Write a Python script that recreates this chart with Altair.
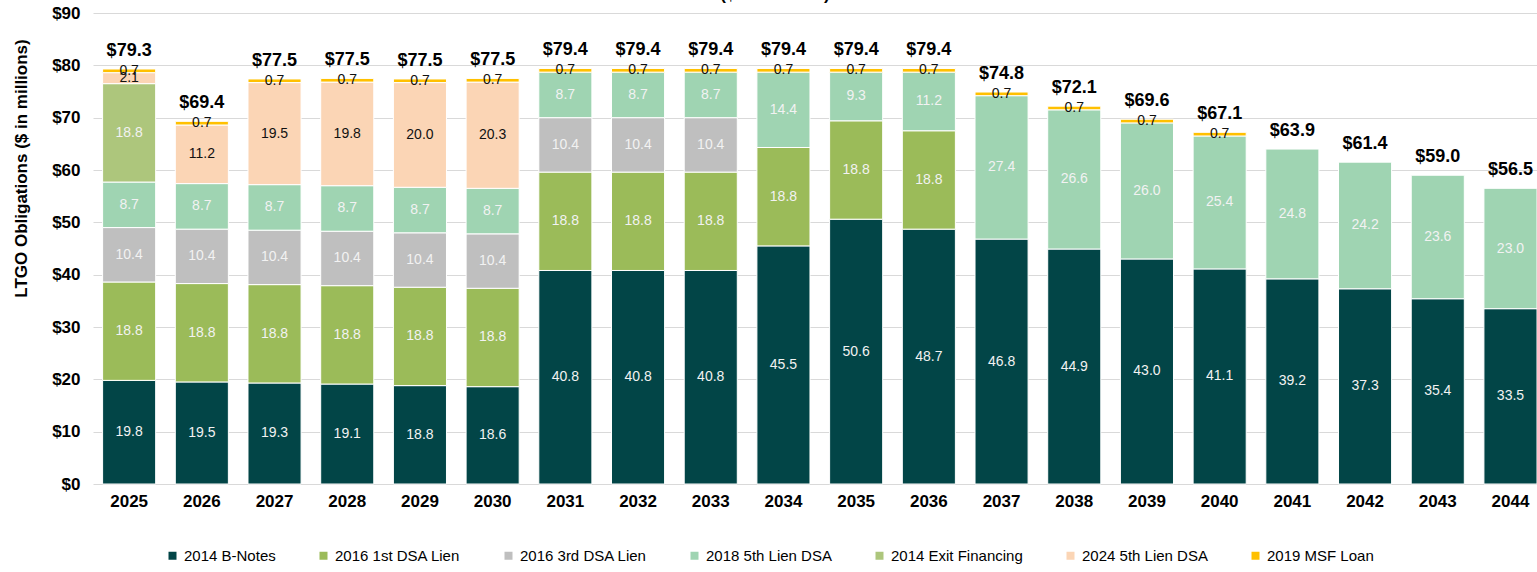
import altair as alt
import pandas as pd

years = ["2025", "2026", "2027", "2028", "2029", "2030", "2031", "2032", "2033", "2034",
         "2035", "2036", "2037", "2038", "2039", "2040", "2041", "2042", "2043", "2044"]

series_names = ["2014 B-Notes", "2016 1st DSA Lien", "2016 3rd DSA Lien", "2018 5th Lien DSA",
                "2014 Exit Financing", "2024 5th Lien DSA", "2019 MSF Loan"]

b_notes_2014 = [19.8, 19.5, 19.3, 19.1, 18.8, 18.6, 40.8, 40.8, 40.8, 45.5,
                50.6, 48.7, 46.8, 44.9, 43.0, 41.1, 39.2, 37.3, 35.4, 33.5]
dsa1_2016 = [18.8, 18.8, 18.8, 18.8, 18.8, 18.8, 18.8, 18.8, 18.8, 18.8,
             18.8, 18.8, 0, 0, 0, 0, 0, 0, 0, 0]
dsa3_2016 = [10.4, 10.4, 10.4, 10.4, 10.4, 10.4, 10.4, 10.4, 10.4, 0,
             0, 0, 0, 0, 0, 0, 0, 0, 0, 0]
lien5_2018 = [8.7, 8.7, 8.7, 8.7, 8.7, 8.7, 8.7, 8.7, 8.7, 14.4,
              9.3, 11.2, 27.4, 26.6, 26.0, 25.4, 24.8, 24.2, 23.6, 23.0]
exit_2014 = [18.8, 0, 0, 0, 0, 0, 0, 0, 0, 0,
             0, 0, 0, 0, 0, 0, 0, 0, 0, 0]
lien5_2024 = [2.1, 11.2, 19.5, 19.8, 20.0, 20.3, 0, 0, 0, 0,
              0, 0, 0, 0, 0, 0, 0, 0, 0, 0]
msf_2019 = [0.7, 0.7, 0.7, 0.7, 0.7, 0.7, 0.7, 0.7, 0.7, 0.7,
            0.7, 0.7, 0.7, 0.7, 0.7, 0.7, 0, 0, 0, 0]

total_labels = ["$79.3", "$69.4", "$77.5", "$77.5", "$77.5", "$77.5", "$79.4", "$79.4", "$79.4", "$79.4",
                "$79.4", "$79.4", "$74.8", "$72.1", "$69.6", "$67.1", "$63.9", "$61.4", "$59.0", "$56.5"]

colors = ["#024547", "#9bbb59", "#bfbfbf", "#9fd4b2", "#adc67c", "#fbd5b5", "#ffc000"]

all_series = [b_notes_2014, dsa1_2016, dsa3_2016, lien5_2018, exit_2014, lien5_2024, msf_2019]

rows = []
for si, (name, vals) in enumerate(zip(series_names, all_series)):
    for yi, (yr, v) in enumerate(zip(years, vals)):
        if v > 0:
            rows.append({"year": yr, "series": name, "value": v, "order": si,
                         "total_label": total_labels[yi]})
df = pd.DataFrame(rows)

FONT = "Liberation Sans"

x_enc = alt.X("year:N", sort=years,
              scale=alt.Scale(paddingInner=0.27, paddingOuter=0.066, align=1),
              axis=alt.Axis(title=None, labelAngle=0, labelFont=FONT, labelFontSize=17,
                            labelFontWeight="bold", labelColor="#000000", labelPadding=9,
                            ticks=False, domain=False, grid=False))

y_scale = alt.Scale(domain=[0, 90], nice=False)

bars = alt.Chart(df).mark_bar(stroke="white", strokeWidth=1).encode(
    x=x_enc,
    y=alt.Y("value:Q", stack="zero", scale=y_scale,
            axis=alt.Axis(title="LTGO Obligations ($ in millions)",
                          values=list(range(0, 91, 10)),
                          labelExpr="'$' + datum.value",
                          labelFont=FONT, labelFontSize=17, labelFontWeight="bold",
                          labelColor="#000000", labelPadding=13,
                          ticks=False, domain=False,
                          grid=True, gridColor="#d9d9d9", gridWidth=1,
                          titleFont=FONT, titleFontSize=17, titleFontWeight="bold",
                          titleColor="#000000", titleAngle=270, titleAlign="center",
                          titleBaseline="middle", titleX=-72, titleY=155)),
    color=alt.Color("series:N", sort=series_names,
                    scale=alt.Scale(domain=series_names, range=colors),
                    legend=alt.Legend(title=None, orient="none", direction="horizontal",
                                      legendX=72, legendY=535, columns=7,
                                      symbolType="square", symbolSize=64,
                                      symbolStrokeWidth=0, labelFont=FONT,
                                      labelFontSize=15, labelColor="#000000",
                                      labelOffset=4, columnPadding=40)),
    order=alt.Order("order:Q", sort="ascending"),
)

seg_labels = alt.Chart(df).transform_stack(
    stack="value", groupby=["year"], as_=["y0", "y1"],
    sort=[alt.SortField("order", order="ascending")]
).transform_calculate(
    mid="(datum.y0 + datum.y1) / 2"
).mark_text(font=FONT, fontSize=14, baseline="middle", align="center").encode(
    x=alt.X("year:N", sort=years),
    y=alt.Y("mid:Q", scale=y_scale),
    text=alt.Text("value:Q", format=".1f"),
    color=alt.condition(
        "datum.series == '2024 5th Lien DSA' || datum.series == '2019 MSF Loan'",
        alt.value("#111111"), alt.value("#f2f2f2")),
)

totals = alt.Chart(df).transform_joinaggregate(
    top="sum(value)", groupby=["year"]
).transform_filter("datum.order == 0").mark_text(
    font=FONT, fontSize=18, fontWeight="bold", baseline="alphabetic", align="center",
    dy=-13, color="#000000"
).encode(
    x=alt.X("year:N", sort=years),
    y=alt.Y("top:Q", scale=y_scale),
    text="total_label:N",
)

title_df = pd.DataFrame({"t": ["($ in millions)"]})
title_txt = alt.Chart(title_df).mark_text(
    font=FONT, fontSize=17, fontWeight="bold", baseline="bottom", align="center",
    color="#000000"
).encode(x=alt.value(682), y=alt.value(-9), text="t:N")

chart = alt.layer(bars, seg_labels, totals, title_txt).properties(
    width=1444, height=471,
    autosize=alt.AutoSizeParams(type="none"),
    padding={"left": 93, "top": 13, "right": 0, "bottom": 88},
    background="white",
).configure_view(stroke=None)

chart.save("out.html", embed_options={"renderer": "svg", "actions": False})
